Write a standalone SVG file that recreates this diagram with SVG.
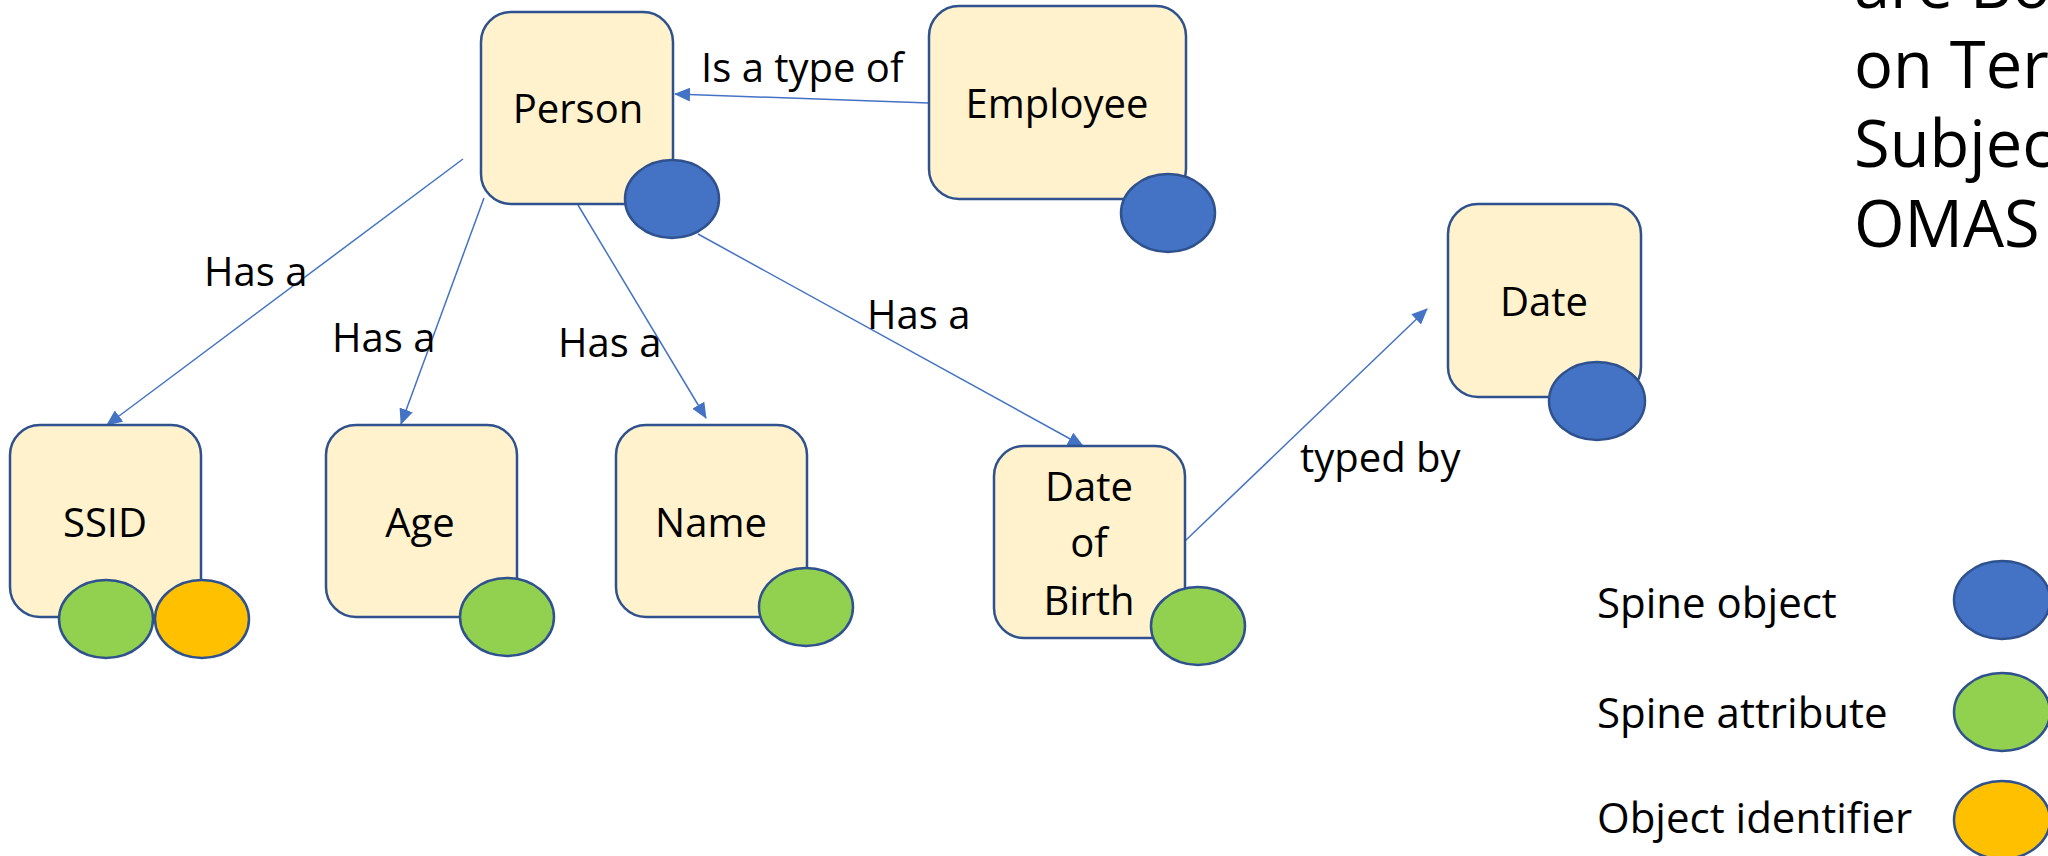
<svg xmlns="http://www.w3.org/2000/svg" width="2048" height="856" viewBox="0 0 2048 856">
  <style>
    .box { fill: #FFF2CC; stroke: #2F528F; stroke-width: 2.5; }
    .obj { fill: #4472C4; stroke: #2F528F; stroke-width: 2.5; }
    .attr { fill: #92D050; stroke: #2F528F; stroke-width: 2.5; }
    .ident { fill: #FFC000; stroke: #2F528F; stroke-width: 2.5; }
    .lbl { font-family: "Open Sans", "Liberation Sans", sans-serif; font-size: 40px; fill: #000; }
    .mid { text-anchor: middle; }
    .legend { font-family: "Open Sans", "Liberation Sans", sans-serif; font-size: 42px; fill: #000; }
    .title { font-family: "Open Sans", "Liberation Sans", sans-serif; font-size: 65px; fill: #000; }
    .conn { stroke: #4472C4; stroke-width: 1.5; fill: none; marker-end: url(#arrow); }
  </style>
  <defs>
    <marker id="arrow" markerUnits="userSpaceOnUse" markerWidth="16" markerHeight="14" refX="15" refY="7" orient="auto">
      <path d="M0,0 L16,7 L0,14 z" fill="#4472C4"/>
    </marker>
  </defs>

  <rect width="2048" height="856" fill="#FFFFFF"/>

  <!-- connectors -->
  <g id="connectors">
    <line class="conn" x1="929" y1="103" x2="675" y2="94"/>
    <line class="conn" x1="463" y1="159" x2="107" y2="425"/>
    <line class="conn" x1="484" y1="198" x2="401" y2="424"/>
    <line class="conn" x1="578" y1="205" x2="706" y2="418"/>
    <line class="conn" x1="698" y1="234" x2="1083" y2="446"/>
    <line class="conn" x1="1185" y1="541" x2="1427" y2="309"/>
    <text class="lbl" x="701" y="82">Is a type of</text>
    <text class="lbl" x="204" y="286">Has a</text>
    <text class="lbl" x="332" y="352">Has a</text>
    <text class="lbl" x="558" y="357">Has a</text>
    <text class="lbl" x="867" y="329">Has a</text>
    <text class="lbl" x="1300" y="472">typed by</text>
  </g>

  <!-- nodes -->
  <g id="person">
    <rect class="box" x="481" y="12" width="192" height="192" rx="30"/>
    <text class="lbl mid" x="578" y="123">Person</text>
    <ellipse class="obj" cx="672" cy="199" rx="47" ry="39"/>
  </g>
  <g id="employee">
    <rect class="box" x="929" y="6" width="257" height="193" rx="30"/>
    <text class="lbl mid" x="1057" y="118">Employee</text>
    <ellipse class="obj" cx="1168" cy="213" rx="47" ry="39"/>
  </g>
  <g id="date">
    <rect class="box" x="1448" y="204" width="193" height="193" rx="30"/>
    <text class="lbl mid" x="1544" y="316">Date</text>
    <ellipse class="obj" cx="1597" cy="401" rx="48" ry="39"/>
  </g>
  <g id="ssid">
    <rect class="box" x="10" y="425" width="191" height="192" rx="30"/>
    <text class="lbl mid" x="105" y="537">SSID</text>
    <ellipse class="attr" cx="106" cy="619" rx="47" ry="39"/>
    <ellipse class="ident" cx="202" cy="619" rx="47" ry="39"/>
  </g>
  <g id="age">
    <rect class="box" x="326" y="425" width="191" height="192" rx="30"/>
    <text class="lbl mid" x="420" y="537">Age</text>
    <ellipse class="attr" cx="507" cy="617" rx="47" ry="39"/>
  </g>
  <g id="name">
    <rect class="box" x="616" y="425" width="191" height="192" rx="30"/>
    <text class="lbl mid" x="711" y="537">Name</text>
    <ellipse class="attr" cx="806" cy="607" rx="47" ry="39"/>
  </g>
  <g id="date-of-birth">
    <rect class="box" x="994" y="446" width="191" height="192" rx="30"/>
    <text class="lbl mid" x="1089" y="501">Date</text>
    <text class="lbl mid" x="1089" y="557">of</text>
    <text class="lbl mid" x="1089" y="615">Birth</text>
    <ellipse class="attr" cx="1198" cy="626" rx="47" ry="39"/>
  </g>

  <!-- heading text running off the right edge -->
  <g id="heading">
    <text class="title" x="1854" y="8">are Bo</text>
    <text class="title" x="1854" y="88">on Term</text>
    <text class="title" x="1854" y="167">Subject</text>
    <text class="title" x="1854" y="247">OMAS</text>
  </g>

  <!-- legend -->
  <g id="legend">
    <text class="legend" x="1597" y="618">Spine object</text>
    <ellipse class="obj" cx="2002" cy="600" rx="48" ry="39"/>
    <text class="legend" x="1597" y="728">Spine attribute</text>
    <ellipse class="attr" cx="2002" cy="712" rx="48" ry="39"/>
    <text class="legend" x="1597" y="833">Object identifier</text>
    <ellipse class="ident" cx="2002" cy="820" rx="48" ry="39"/>
  </g>
</svg>
